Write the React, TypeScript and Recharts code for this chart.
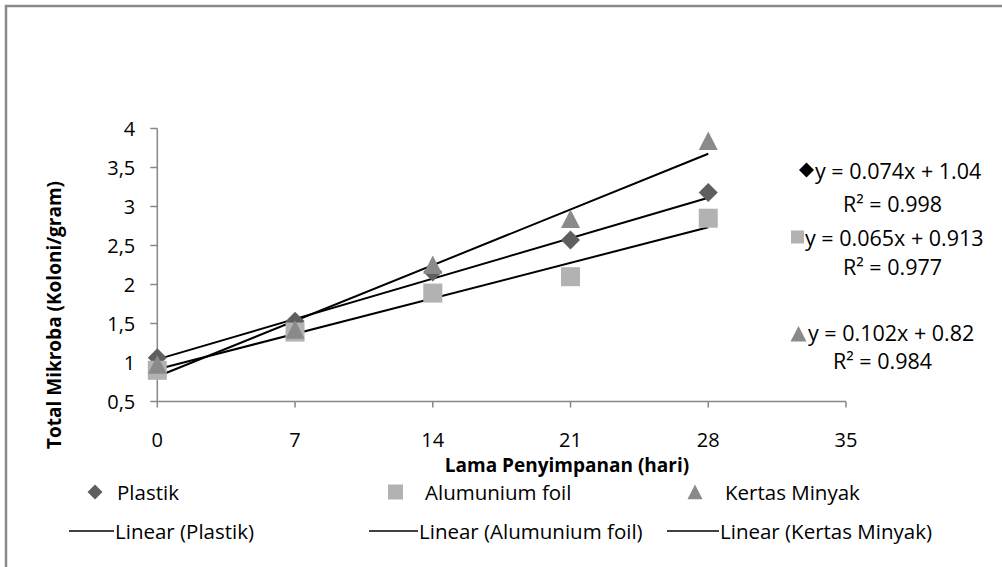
import { ScatterChart, Scatter, XAxis, YAxis, ReferenceLine } from "recharts";

const days = [0, 7, 14, 21, 28];
const plastik = [1.06, 1.53, 2.16, 2.57, 3.18];
const alumunium = [0.9, 1.39, 1.89, 2.1, 2.85];
const kertas = [0.97, 1.42, 2.25, 2.84, 3.84];

const seriesNames = ["Plastik", "Alumunium foil", "Kertas Minyak"];
const slopes = [0.074, 0.065, 0.102];
const intercepts = [1.04, 0.913, 0.82];
const rSquared = ["0.998", "0.977", "0.984"];

const xTicks = [0, 7, 14, 21, 28, 35];
const yTicks = [0.5, 1, 1.5, 2, 2.5, 3, 3.5, 4];

const xTitle = "Lama Penyimpanan (hari)";
const yTitle = "Total Mikroba (Koloni/gram)";

const W = 1002;
const H = 567;
const FONT = "'Open Sans', sans-serif";
const colors = ["#5f5f5f", "#b2b2b2", "#8a8a8a"];
const AXIS = "#878787";

const toPoints = (ys: number[]) => days.map((d, i) => ({ x: d, y: ys[i] }));
const series = [toPoints(plastik), toPoints(alumunium), toPoints(kertas)];

function Diamond({ cx, cy, fill, r = 9.5 }: any) {
  return <polygon points={`${cx},${cy - r} ${cx + r},${cy} ${cx},${cy + r} ${cx - r},${cy}`} fill={fill} />;
}
function Square({ cx, cy, fill, r = 9.5 }: any) {
  return <rect x={cx - r} y={cy - r} width={r * 2} height={r * 2} fill={fill} />;
}
function Triangle({ cx, cy, fill, r = 9.5 }: any) {
  return <polygon points={`${cx},${cy - r} ${cx + r},${cy + r * 0.95} ${cx - r},${cy + r * 0.95}`} fill={fill} />;
}
const shapes = [Diamond, Square, Triangle];

// equation labels on the right
const eqPos = [
  { mx: 806.5, my: 170, tx: 815, ty: 170, rx: 843, ry: 203, mfill: "#000", mr: 7.5 },
  { mx: 797.5, my: 237, tx: 805, ty: 237, rx: 843, ry: 266, mfill: "#b2b2b2", mr: 6.5 },
  { mx: 798.5, my: 334, tx: 808, ty: 332, rx: 833, ry: 360, mfill: "#8a8a8a", mr: 8 },
];

// legend layout
const legendMarkers = [
  { x: 95, tx: 117 },
  { x: 395.5, tx: 425 },
  { x: 695, tx: 725 },
];
const legendLines = [
  { x1: 69, x2: 114 },
  { x1: 369, x2: 418 },
  { x1: 667, x2: 719 },
];

const fmt = (v: number) => String(v).replace(".", ",");

export default function App() {
  return (
    <div style={{ position: "absolute", left: 0, top: 0, width: W, height: H, overflow: "hidden", background: "#fff" }}>
      <ScatterChart
        width={W}
        height={H}
        margin={{ top: 128.5, right: 156, left: 97.3, bottom: 125.5 }}
      >
        <XAxis
          type="number"
          dataKey="x"
          domain={[0, 35]}
          ticks={xTicks}
          interval={0}
          stroke={AXIS}
          strokeWidth={1.5}
          tickSize={6}
          tickMargin={25}
          height={40}
          tick={{ fill: "#000", fontSize: 20, fontFamily: FONT }}
          tickLine={{ stroke: AXIS }}
        />
        <YAxis
          type="number"
          dataKey="y"
          domain={[0.5, 4]}
          ticks={yTicks}
          interval={0}
          width={60}
          stroke={AXIS}
          strokeWidth={1.5}
          tickSize={7}
          tickMargin={15}
          tickFormatter={fmt}
          tick={{ fill: "#000", fontSize: 20, fontFamily: FONT }}
          tickLine={{ stroke: AXIS }}
        />
        {series.map((data, i) => {
          const S = shapes[i];
          return (
            <Scatter
              key={seriesNames[i]}
              name={seriesNames[i]}
              data={data}
              fill={colors[i]}
              isAnimationActive={false}
              shape={(p: any) => <S cx={p.cx} cy={p.cy} fill={colors[i]} />}
            />
          );
        })}
        {slopes.map((m, i) => (
          <ReferenceLine
            key={"trend" + i}
            segment={[
              { x: days[0], y: intercepts[i] + m * days[0] },
              { x: days[days.length - 1], y: intercepts[i] + m * days[days.length - 1] },
            ]}
            stroke="#000"
            strokeWidth={2}
          />
        ))}
      </ScatterChart>

      <svg width={W} height={H} style={{ position: "absolute", left: 0, top: 0, pointerEvents: "none" }} fontFamily={FONT}>
        {/* frame */}
        <line x1={5} y1={6} x2={W} y2={6} stroke="#8a8a8a" strokeWidth={2.5} />
        <line x1={6} y1={5} x2={6} y2={H} stroke="#8a8a8a" strokeWidth={2.5} />
        <text x={612} y={-3} fontSize={21} fill="#000">(</text>
        <text x={732} y={-3} fontSize={21} fill="#000">)</text>

        {/* axis titles */}
        <text
          x={54}
          y={315}
          transform="rotate(-90 54 315)"
          textAnchor="middle"
          dominantBaseline="central"
          fontSize={19}
          fontWeight="bold"
          fill="#000"
        >
          {yTitle}
        </text>
        <text x={567} y={465} textAnchor="middle" dominantBaseline="central" fontSize={19} fontWeight="bold" fill="#000">
          {xTitle}
        </text>

        {/* regression equations */}
        {eqPos.map((p, i) => {
          const S = shapes[i];
          return (
            <g key={"eq" + i}>
              <S cx={p.mx} cy={p.my} fill={p.mfill} r={p.mr} />
              <text x={p.tx} y={p.ty} dominantBaseline="central" fontSize={21.5} fill="#000">
                {`y = ${slopes[i]}x + ${intercepts[i]}`}
              </text>
              <text x={p.rx} y={p.ry} dominantBaseline="central" fontSize={21.5} fill="#000">
                {`R² = ${rSquared[i]}`}
              </text>
            </g>
          );
        })}

        {/* legend */}
        {seriesNames.map((name, i) => {
          const S = shapes[i];
          const m = legendMarkers[i];
          const l = legendLines[i];
          return (
            <g key={"lg" + i}>
              <S cx={m.x} cy={492} fill={colors[i]} r={7.5} />
              <text x={m.tx} y={492} dominantBaseline="central" fontSize={20.5} fill="#000">
                {name}
              </text>
              <line x1={l.x1} y1={531} x2={l.x2} y2={531} stroke="#000" strokeWidth={1.5} />
              <text x={l.x2 + 1} y={531} dominantBaseline="central" fontSize={20.5} fill="#000">
                {`Linear (${name})`}
              </text>
            </g>
          );
        })}
      </svg>
    </div>
  );
}
